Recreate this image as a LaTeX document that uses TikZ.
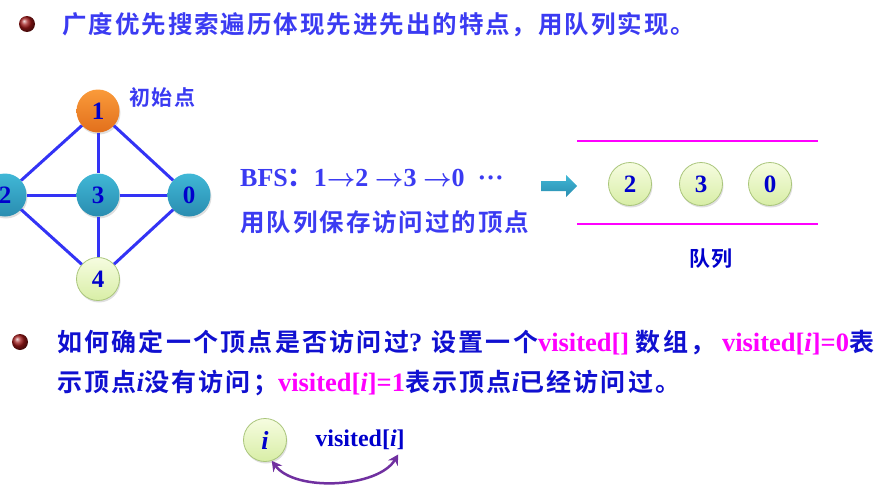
\documentclass[tikz,border=0pt]{standalone}
\usepackage{fontspec}
\usepackage{amsmath}
\setmainfont{Liberation Serif}
\newfontfamily\cjk{Noto Sans CJK SC Bold}[LetterSpace=8]
\newfontfamily\cjkb{Noto Sans CJK SC Bold}[LetterSpace=9]
\usetikzlibrary{arrows.meta,shadows}
\definecolor{tblue}{HTML}{3B3BF2}
\definecolor{dblue}{HTML}{1010D0}
\definecolor{nblue}{HTML}{0000CC}
\definecolor{eblue}{HTML}{3333F5}
\definecolor{mag}{HTML}{FF00FF}
\definecolor{tealA}{HTML}{40B8D6}
\definecolor{tealB}{HTML}{2A8DB0}
\definecolor{orA}{HTML}{FA9A3A}
\definecolor{orB}{HTML}{E2701C}
\definecolor{grA}{HTML}{F6FCE0}
\definecolor{grB}{HTML}{D8EEA6}
\definecolor{grD}{HTML}{A9C57A}
\definecolor{pur}{HTML}{7030A0}
\definecolor{bred}{HTML}{A01818}
\newcommand\zhb[1]{{\fontsize{25}{28}\selectfont\cjkb #1}}
\newcommand\lt[1]{{\fontsize{26.5}{28}\selectfont\bfseries #1}}
\newcommand\arr{\ensuremath{\boldsymbol{\rightarrow}}}
\tikzset{
  vtx/.style={circle, minimum size=43pt, inner sep=0pt, text=nblue,
    font=\fontsize{25}{25}\selectfont\bfseries,
    drop shadow={opacity=0.25, shadow xshift=1pt, shadow yshift=-2pt}},
  tealnode/.style={vtx, top color=tealA, bottom color=tealB},
  orangenode/.style={vtx, top color=orA, bottom color=orB},
  greennode/.style={vtx, top color=grA, bottom color=grB, draw=grD, line width=0.8pt},
  edge/.style={draw=eblue, line width=3pt},
  zh/.style={font=\fontsize{24.5}{28}\selectfont\cjk},
  lat/.style={font=\fontsize{26}{28}\selectfont\bfseries},
  bullet/.style={ball color=bred},
}
\begin{document}
\begin{tikzpicture}[x=1pt,y=-1pt]
\useasboundingbox (0,0) rectangle (895,490);
% title
\shade[bullet] (27,24) circle (8);
\node[zh, text=tblue, anchor=base west, inner sep=0pt] (title) at (62,33)
  {广度优先搜索遍历体现先进先出的特点，用队列实现。};
% graph
\node[orangenode] (n1) at (98,111) {1};
\node[tealnode] (n2) at (5,195) {2};
\node[tealnode] (n3) at (98,195) {3};
\node[tealnode] (n0) at (189,195) {0};
\node[greennode] (n4) at (98,279) {4};
\draw[edge] (n1) -- (n2);
\draw[edge] (n1) -- (n3);
\draw[edge] (n1) -- (n0);
\draw[edge] (n2) -- (n3);
\draw[edge] (n3) -- (n0);
\draw[edge] (n2) -- (n4);
\draw[edge] (n3) -- (n4);
\draw[edge] (n0) -- (n4);
\node[font=\fontsize{21}{22}\selectfont\cjk, text=tblue, anchor=base west, inner sep=0pt] (start) at (129,105) {初始点};
% BFS text
\node[lat, text=tblue, anchor=base west, inner sep=0pt] (bfs) at (240,186)
  {BFS{\cjk ：}1\arr2 \arr3 \arr0 \ ···};
\node[zh, text=tblue, anchor=base west, inner sep=0pt] (keep) at (240,231)
  {用队列保存访问过的顶点};
% block arrow
\shade[top color=tealA, bottom color=tealB]
  (541,181) -- (566,181) -- (566,175) -- (577,186) -- (566,197) -- (566,191) -- (541,191) -- cycle;
% queue
\coordinate (qa1) at (577,141); \coordinate (qa2) at (818,141);
\coordinate (qb1) at (577,224); \coordinate (qb2) at (818,224);
\draw[mag, line width=2.5pt] (qa1) -- (qa2);
\draw[mag, line width=2.5pt] (qb1) -- (qb2);
\node[greennode] (q2) at (630,184) {2};
\node[greennode] (q3) at (701,184) {3};
\node[greennode] (q0) at (770,184) {0};
\node[font=\fontsize{21}{22}\selectfont\cjk, text=nblue, anchor=base west, inner sep=0pt] (qlab) at (689,266) {队列};
% second bullet
\shade[bullet] (20,342) circle (8);
\node[anchor=base west, inner sep=0pt, text=dblue] (l1) at (57,351)
  {\zhb{如何确定一个顶点是否访问过}\lt{? }\zhb{设置一个}\textcolor{mag}{\lt{visited[] }}\zhb{数组，}\lt{\ }\textcolor{mag}{\lt{visited[\textit{i}]=0}}\zhb{表}};
\node[anchor=base west, inner sep=0pt, text=dblue] (l2) at (57,391)
  {\zhb{示顶点}\lt{\textit{i}}\zhb{没有访问；}\textcolor{mag}{\lt{visited[\textit{i}]=1}}\zhb{表示顶点}\lt{\textit{i}}\zhb{已经访问过。}};
% bottom
\node[greennode, font=\fontsize{26}{26}\selectfont\bfseries\itshape] (iv) at (265,440) {i};
\node[text=nblue, font=\fontsize{24}{26}\selectfont\bfseries] (vi) at (360,440) {visited[\textit{i}]};
\draw[pur, line width=2.5pt, {Stealth[length=10pt,width=11pt]}-{Stealth[length=10pt,width=11pt]}]
  (iv.-72) .. controls (295,492) and (378,488) .. ([xshift=-10pt,yshift=-1pt]vi.south east);
\end{tikzpicture}
\end{document}
